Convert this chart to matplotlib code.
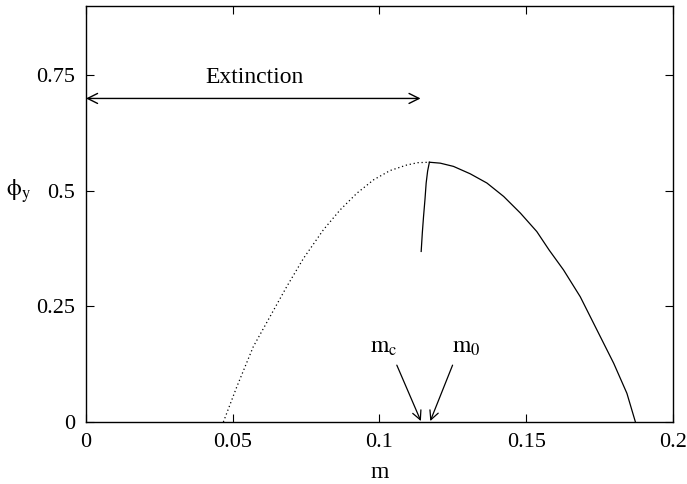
import numpy as np
import matplotlib
matplotlib.use('Agg')
import matplotlib.pyplot as plt

plt.rcParams['font.family'] = ['Liberation Serif', 'DejaVu Serif']
plt.rcParams['mathtext.fontset'] = 'stix'

# unstable (dotted) branch
m_dot = [0.0468, 0.0514, 0.0570, 0.0627, 0.0684, 0.0741, 0.0809, 0.0866,
         0.0923, 0.0980, 0.1036, 0.1093, 0.1130, 0.1170]
phi_dot = [0.0, 0.0765, 0.163, 0.228, 0.293, 0.354, 0.416, 0.459,
           0.495, 0.524, 0.544, 0.556, 0.561, 0.562]

# stable (solid) branch
m_solid = [0.1170, 0.1207, 0.1252, 0.1309, 0.1366, 0.1423, 0.1480, 0.1536,
           0.1578, 0.1627, 0.1684, 0.1741, 0.1798, 0.1843, 0.1872]
phi_solid = [0.562, 0.560, 0.553, 0.537, 0.517, 0.488, 0.452, 0.412,
             0.372, 0.329, 0.271, 0.199, 0.127, 0.062, 0.0]

# short branch near the peak
m_short = [0.1142, 0.1146, 0.1150, 0.1155, 0.1159, 0.1164, 0.1170]
phi_short = [0.369, 0.410, 0.444, 0.482, 0.517, 0.543, 0.562]

m_c, m_0 = 0.1141, 0.1173
extinction_end = 0.114
extinction_y = 0.70

fig = plt.figure(figsize=(6.87, 4.84), dpi=100)
ax = fig.add_axes([0.1252, 0.1281, 0.8544, 0.8595])

ax.plot(m_dot, phi_dot, color='black', lw=0.9, linestyle=(0, (1, 2.2)))
ax.plot(m_solid, phi_solid, color='black', lw=0.9)
ax.plot(m_short, phi_short, color='black', lw=0.9)

ax.set_xlim(0, 0.2)
ax.set_ylim(0, 0.9)
ax.set_xticks([0, 0.05, 0.1, 0.15, 0.2])
ax.set_xticklabels(['0', '0.05', '0.1', '0.15', '0.2'])
ax.set_yticks([0, 0.25, 0.5, 0.75])
ax.set_yticklabels(['0', '0.25', '0.5', '0.75'])
ax.tick_params(direction='in', length=6, width=0.8, top=True, right=True,
               labelsize=16, pad=8)
for s in ax.spines.values():
    s.set_linewidth(1.0)

# extinction double arrow
ax.annotate('', xy=(0, extinction_y), xytext=(extinction_end, extinction_y),
            arrowprops=dict(arrowstyle='<->', color='black', lw=1.0,
                            mutation_scale=18, shrinkA=0, shrinkB=0))
ax.text(0.0575, 0.734, 'Extinction', fontsize=17, ha='center', va='baseline')

# m_c and m_0 arrows
arrow_kw = dict(arrowstyle='->', color='black', lw=0.9,
                mutation_scale=16, shrinkA=0, shrinkB=0)
ax.annotate('', xy=(m_c, 0.002), xytext=(0.1059, 0.123), arrowprops=arrow_kw)
ax.annotate('', xy=(m_0, 0.002), xytext=(0.1249, 0.123), arrowprops=arrow_kw)
ax.text(0.1062, 0.149, r'$\mathrm{m_c}$', fontsize=17, ha='right', va='baseline')
ax.text(0.1246, 0.149, r'$\mathrm{m_0}$', fontsize=17, ha='left', va='baseline')

ax.set_xlabel('m', fontsize=17, labelpad=7)
fig.text(0.027, 0.605, r'$\mathrm{\phi_y}$', fontsize=17, ha='center', va='center')

fig.savefig('out.png', dpi=100)
